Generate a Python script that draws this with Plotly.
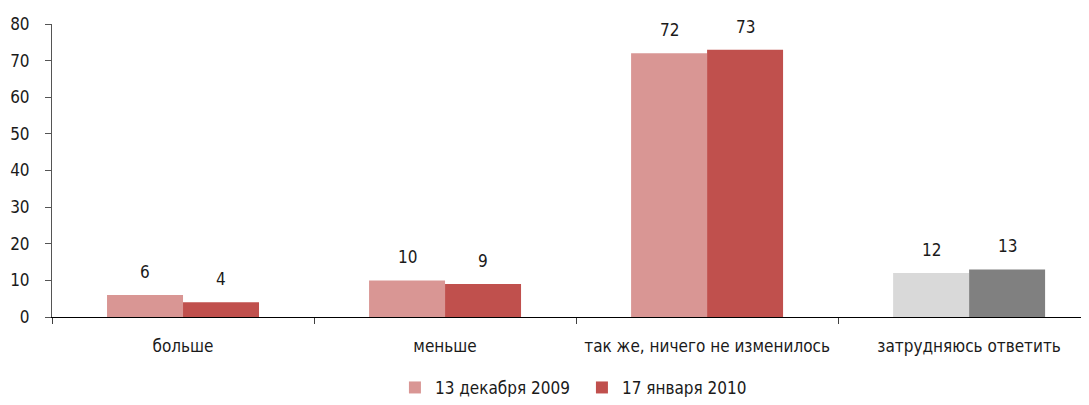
import plotly.graph_objects as go

categories = ["больше", "меньше", "так же, ничего не изменилось", "затрудняюсь ответить"]
series_names = ["13 декабря 2009", "17 января 2010"]
values_dec = [6, 10, 72, 12]
values_jan = [4, 9, 73, 13]
colors_dec = ["#D99694", "#D99694", "#D99694", "#D9D9D9"]
colors_jan = ["#C0504D", "#C0504D", "#C0504D", "#808080"]
y_ticks = [0, 10, 20, 30, 40, 50, 60, 70, 80]

FONT = "Liberation Sans Narrow, Arial Narrow, DejaVu Sans Condensed, sans-serif"
TXT = "#1a1a1a"

fig = go.Figure()
fig.add_trace(go.Bar(
    x=categories, y=values_dec, name=series_names[0],
    marker=dict(color=colors_dec, line=dict(width=0)),
))
fig.add_trace(go.Bar(
    x=categories, y=values_jan, name=series_names[1],
    marker=dict(color=colors_jan, line=dict(width=0)),
))

# value labels above each bar (bar half-offset ~38px)
annotations = []
for vals, shift in ((values_dec, -38), (values_jan, 38)):
    for cat, v in zip(categories, vals):
        annotations.append(dict(
            x=cat, y=v, xref="x", yref="y", text=str(v), showarrow=False,
            xshift=shift, yshift=11, yanchor="bottom", xanchor="center",
            font=dict(size=17, family=FONT, color=TXT),
        ))

# page body has an 8px default margin; keep the page inside the 1089x405 window
fig.update_layout(
    width=1073, height=389,
    margin=dict(l=44, r=0, t=16, b=80, autoexpand=False),
    paper_bgcolor="white", plot_bgcolor="white",
    barmode="group", bargap=0.42, bargroupgap=0,
    font=dict(family=FONT, size=17, color=TXT),
    showlegend=True,
    legend=dict(orientation="h", x=0.515, xanchor="center", y=-0.242, yanchor="middle",
                font=dict(size=17, family=FONT), traceorder="normal",
                entrywidth=142),
    annotations=annotations,
    xaxis=dict(
        type="category", range=[-0.5, 3.427], automargin=False,
        showline=True, linecolor="#000000", linewidth=1,
        ticks="outside", tickson="boundaries", ticklen=6, tickcolor="#404040",
        ticklabelstandoff=14,
        showgrid=False, zeroline=False,
        tickfont=dict(size=17, family=FONT),
    ),
    yaxis=dict(
        range=[0, 80], tickvals=y_ticks, automargin=False,
        showline=True, linecolor="#555555", linewidth=1,
        ticks="outside", ticklen=6, tickcolor="#555555",
        ticklabelstandoff=12,
        showgrid=False, zeroline=False,
        tickfont=dict(size=17, family=FONT),
    ),
)

fig.write_html("out.html")
